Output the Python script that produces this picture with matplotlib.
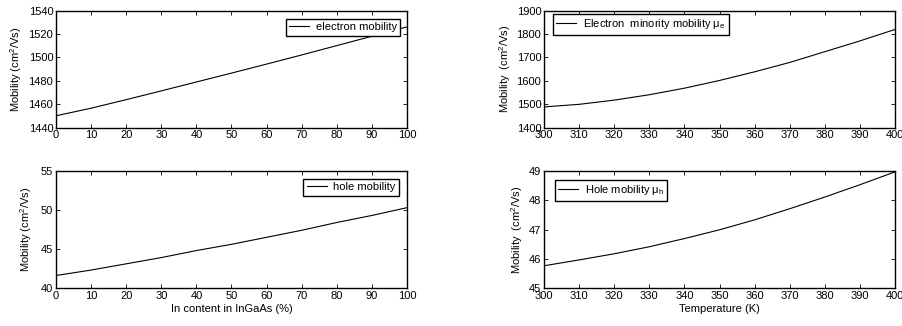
import numpy as np
import matplotlib
matplotlib.use("Agg")
import matplotlib.pyplot as plt

plt.rcParams['font.family'] = ['Liberation Sans', 'DejaVu Sans']
plt.rcParams['mathtext.fontset'] = 'custom'
plt.rcParams['mathtext.rm'] = 'Liberation Sans'
plt.rcParams['mathtext.it'] = 'Liberation Sans:italic'
plt.rcParams['font.size'] = 8

# In content in InGaAs (%)
in_content = [0, 10, 20, 30, 40, 50, 60, 70, 80, 90, 100]
electron_in = [1450, 1456.5, 1463.8, 1471.3, 1478.9, 1486.5, 1494.2, 1502, 1510, 1518, 1526]
hole_in = [41.6, 42.3, 43.1, 43.9, 44.8, 45.6, 46.5, 47.4, 48.4, 49.3, 50.3]

# Temperature (K)
temperature = [300, 310, 320, 330, 340, 350, 360, 370, 380, 390, 400]
electron_t = [1488, 1499, 1517, 1540, 1568, 1601, 1638, 1678, 1724, 1770, 1819]
hole_t = [45.76, 45.96, 46.17, 46.41, 46.69, 46.99, 47.33, 47.71, 48.11, 48.53, 48.97]

fig = plt.figure(figsize=(9.03, 3.26), dpi=100)

W, H = 903.0, 326.0
AXW, AXH = 351.0, 117.0

def make_axes(left, top):
    return fig.add_axes([left / W, 1 - (top + AXH) / H, AXW / W, AXH / H])

ax1 = make_axes(56, 10.5)
ax2 = make_axes(56, 171)
ax3 = make_axes(544, 10.5)
ax4 = make_axes(544, 171)

def style(ax):
    ax.tick_params(direction='in', top=True, right=True, length=3, width=0.6,
                   labelsize=8, pad=2)
    for s in ax.spines.values():
        s.set_linewidth(1.0)

def legend(ax, loc, gx, gy):
    # gx, gy: gap in pixels between legend box and the axes corner
    if loc == 'upper right':
        anchor = (1 - gx / AXW, 1 - gy / AXH)
    else:
        anchor = (gx / AXW, 1 - gy / AXH)
    leg = ax.legend(loc=loc, bbox_to_anchor=anchor, borderaxespad=0,
                    fancybox=False, edgecolor='black', framealpha=1,
                    handlelength=1.8, fontsize=8,
                    borderpad=0.3, handletextpad=0.6)
    leg.get_frame().set_linewidth(1.0)

# top left: electron mobility vs In content
ax1.plot(in_content, electron_in, color='black', lw=0.8, label='electron mobility')
ax1.set_xlim(0, 100)
ax1.set_ylim(1440, 1540)
ax1.set_xticks(np.arange(0, 101, 10))
ax1.set_yticks(np.arange(1440, 1541, 20))
ax1.set_ylabel('Mobility (cm$^2$/Vs)', labelpad=3)
legend(ax1, 'upper right', 7, 8.5)
style(ax1)

# bottom left: hole mobility vs In content
ax2.plot(in_content, hole_in, color='black', lw=0.8, label='hole mobility')
ax2.set_xlim(0, 100)
ax2.set_ylim(40, 55)
ax2.set_xticks(np.arange(0, 101, 10))
ax2.set_yticks([40, 45, 50, 55])
ax2.set_ylabel('Mobility (cm$^2$/Vs)', labelpad=5)
ax2.set_xlabel('In content in InGaAs (%)', labelpad=2)
legend(ax2, 'upper right', 8, 8)
style(ax2)

# top right: electron minority mobility vs temperature
ax3.plot(temperature, electron_t, color='black', lw=0.8,
         label='Electron  minority mobility μ$_{\\mathrm{e}}$')
ax3.set_xlim(300, 400)
ax3.set_ylim(1400, 1900)
ax3.set_xticks(np.arange(300, 401, 10))
ax3.set_yticks(np.arange(1400, 1901, 100))
ax3.set_ylabel('Mobility  (cm$^2$/Vs)', labelpad=2.5)
legend(ax3, 'upper left', 9, 3.5)
style(ax3)

# bottom right: hole mobility vs temperature
ax4.plot(temperature, hole_t, color='black', lw=0.8,
         label='Hole mobility μ$_{\\mathrm{h}}$')
ax4.set_xlim(300, 400)
ax4.set_ylim(45, 49)
ax4.set_xticks(np.arange(300, 401, 10))
ax4.set_yticks([45, 46, 47, 48, 49])
ax4.set_ylabel('Mobility  (cm$^2$/Vs)', labelpad=3)
ax4.set_xlabel('Temperature (K)', labelpad=2)
legend(ax4, 'upper left', 11, 9)
style(ax4)

fig.savefig('out.png', dpi=100)
